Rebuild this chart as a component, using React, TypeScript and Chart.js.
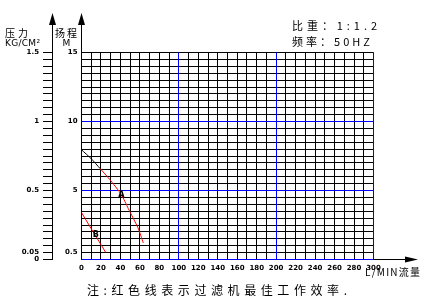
import React, { useEffect, useRef } from 'react';
import { Chart, registerables } from 'chart.js';

Chart.register(...registerables);

// ---- data ----
const flowMin = 0;
const flowMax = 300;
const flowStep = 10;
const flowLabelEvery = 20;
const headMin = 0;
const headMax = 15;
const headStep = 0.5;
const headLabels = [0.5, 5, 10, 15];
const pressureMax = 1.5;
const pressureStep = 0.05;
const pressureLabels = [0, 0.05, 0.5, 1, 1.5];
const blueFlow = [100, 200, 300];
const blueHead = [0, 5, 10];

const curveAFlow = [0, 10, 19, 29, 41, 48, 58, 63.5];
const curveAHead = [7.95, 7.3, 6.6, 5.8, 4.7, 3.7, 2.3, 1.2];
const curveABlackUntil = 19;
const curveBFlow = [0, 12, 25];
const curveBHead = [3.4, 2.0, 0.5];
const curveLabels = ['A', 'B'];
const curveLabelFlow = [41, 14.7];
const curveLabelHead = [4.7, 1.77];

const textRatio = '比重：1:1.2';
const textFreq = '频率：50HZ';
const textPressure = '压力';
const textPressureUnit = 'KG/CM²';
const textHead = '扬程';
const textHeadUnit = 'M';
const textFlow = 'L/MIN流量';
const textNote = '注:红色线表示过滤机最佳工作效率.';

const CJK = '"Noto Sans CJK SC", "DejaVu Sans", sans-serif';

function near(v: number, arr: number[]) {
  return arr.some((a) => Math.abs(a - v) < 1e-6);
}

function spread(ctx: CanvasRenderingContext2D, text: string, x0: number, x1: number, y: number) {
  const chars = Array.from(text);
  const widths = chars.map((c) => ctx.measureText(c).width);
  const total = widths.reduce((a, b) => a + b, 0);
  const gap = chars.length > 1 ? (x1 - x0 - total) / (chars.length - 1) : 0;
  let x = x0;
  ctx.textAlign = 'left';
  ctx.textBaseline = 'middle';
  chars.forEach((c, i) => {
    ctx.fillText(c, x, y);
    x += widths[i] + gap;
  });
}

const al = (v: number) => Math.round(v - 0.5) + 0.5;

const decoPlugin = {
  id: 'deco',
  beforeDatasetsDraw(chart: any) {
    const ctx = chart.ctx as CanvasRenderingContext2D;
    const { left, right, top, bottom } = chart.chartArea;
    const xs = chart.scales.x;
    const ys = chart.scales.y;
    ctx.save();
    ctx.strokeStyle = '#0000ff';
    ctx.lineWidth = 1;
    blueFlow.forEach((v) => {
      const px = al(xs.getPixelForValue(v));
      ctx.beginPath();
      ctx.moveTo(px, top);
      ctx.lineTo(px, bottom);
      ctx.stroke();
    });
    blueHead.forEach((v) => {
      const py = al(ys.getPixelForValue(v));
      ctx.beginPath();
      ctx.moveTo(left, py);
      ctx.lineTo(right, py);
      ctx.stroke();
    });
    ctx.restore();
  },
  afterDraw(chart: any) {
    const ctx = chart.ctx as CanvasRenderingContext2D;
    const { left, right, top, bottom } = chart.chartArea;
    const xs = chart.scales.x;
    const ys = chart.scales.y;
    const y2 = chart.scales.y2;
    ctx.save();
    ctx.strokeStyle = '#000';
    ctx.fillStyle = '#000';
    ctx.lineWidth = 1;
    const ax1 = al(y2.right);
    const ax2 = al(left);
    const by = al(bottom);
    // vertical axes extended to arrows
    [ax1, ax2].forEach((ax) => {
      ctx.beginPath();
      ctx.moveTo(ax, 20);
      ctx.lineTo(ax, ax === ax1 ? by + 0.5 : top);
      ctx.stroke();
      ctx.beginPath();
      ctx.moveTo(ax, 13);
      ctx.lineTo(ax - 3.5, 25);
      ctx.lineTo(ax + 3.5, 25);
      ctx.closePath();
      ctx.fill();
    });
    // x axis extension with arrow
    ctx.beginPath();
    ctx.moveTo(al(right), by);
    ctx.lineTo(408, by);
    ctx.stroke();
    ctx.beginPath();
    ctx.moveTo(418, by);
    ctx.lineTo(405, by - 3);
    ctx.lineTo(405, by + 3);
    ctx.closePath();
    ctx.fill();

    // curve labels
    ctx.font = 'bold 8px "DejaVu Sans", sans-serif';
    ctx.textAlign = 'center';
    ctx.textBaseline = 'middle';
    curveLabels.forEach((t, i) => {
      ctx.fillText(t, xs.getPixelForValue(curveLabelFlow[i]), ys.getPixelForValue(curveLabelHead[i]));
    });

    // annotations
    ctx.font = `11px ${CJK}`;
    spread(ctx, textRatio, 292, 377, 25.5);
    spread(ctx, textFreq, 292, 370, 42);
    ctx.font = `10px ${CJK}`;
    spread(ctx, textPressure, 5, 28, 33);
    spread(ctx, textHead, 55, 77, 33);
    ctx.font = `9px "DejaVu Sans", sans-serif`;
    spread(ctx, textPressureUnit, 5, 40, 43.5);
    ctx.textAlign = 'center';
    ctx.fillText(textHeadUnit, 66.5, 43.5);
    ctx.font = `10px ${CJK}`;
    spread(ctx, textFlow, 365, 420, 272.5);
    ctx.font = `12px ${CJK}`;
    spread(ctx, textNote, 87, 347, 290.5);
    ctx.restore();
  },
};

export default function App() {
  const ref = useRef<HTMLCanvasElement | null>(null);
  useEffect(() => {
    if (!ref.current) return;
    const tickFont = { family: '"DejaVu Sans", sans-serif', size: 7, weight: 'bold' as const };
    const chart = new Chart(ref.current, {
      type: 'line',
      data: {
        datasets: [
          {
            data: curveAFlow.map((x, i) => ({ x, y: curveAHead[i] })),
            borderColor: '#ff0000',
            borderWidth: 1,
            pointRadius: 0,
            tension: 0.2,
            segment: {
              borderColor: (c: any) => (c.p0.parsed.x < curveABlackUntil ? '#000000' : '#ff0000'),
            },
          },
          {
            data: curveBFlow.map((x, i) => ({ x, y: curveBHead[i] })),
            borderColor: '#ff0000',
            borderWidth: 1,
            pointRadius: 0,
            tension: 0,
          },
        ],
      },
      options: {
        animation: false,
        responsive: false,
        maintainAspectRatio: false,
        events: [],
        layout: { padding: { left: 0, top: 52.5, right: 51.5, bottom: 28.5 } },
        plugins: { legend: { display: false }, tooltip: { enabled: false } },
        scales: {
          x: {
            type: 'linear',
            min: flowMin,
            max: flowMax,
            border: { display: false },
            grid: {
              drawTicks: false,
              color: (c: any) => (near(c.tick.value, blueFlow) ? '#0000ff' : '#000000'),
              lineWidth: 1,
            },
            ticks: {
              stepSize: flowStep,
              autoSkip: false,
              maxRotation: 0,
              padding: 4,
              color: '#000',
              font: tickFont,
              callback: (v: any) => (Math.round(v) % flowLabelEvery === 0 ? String(v) : ''),
            },
            afterFit: (s: any) => {
              s.height = 20;
            },
          },
          y: {
            type: 'linear',
            position: 'left',
            weight: 0,
            min: headMin,
            max: headMax,
            border: { display: true, color: '#000' },
            grid: {
              drawTicks: false,
              color: (c: any) => (near(c.tick.value, blueHead) ? '#0000ff' : '#000000'),
              lineWidth: 1,
            },
            ticks: {
              stepSize: headStep,
              autoSkip: false,
              padding: 4,
              color: '#000',
              font: tickFont,
              callback: (v: any) => (near(Number(v), headLabels) ? String(Number(v)) : ''),
            },
            afterFit: (s: any) => {
              s.width = 29.5;
            },
          },
          y2: {
            type: 'linear',
            position: 'left',
            weight: 1,
            min: 0,
            max: pressureMax,
            border: { display: true, color: '#000' },
            grid: {
              drawOnChartArea: false,
              drawTicks: true,
              tickLength: 9,
              color: '#000',
            },
            ticks: {
              stepSize: pressureStep,
              autoSkip: false,
              padding: 4,
              color: '#000',
              font: tickFont,
              callback: (v: any) => (near(Number(v), pressureLabels) ? String(Math.round(Number(v) * 100) / 100) : ''),
            },
            afterFit: (s: any) => {
              s.width = 52;
            },
          },
        },
      },
      plugins: [decoPlugin],
    });
    return () => chart.destroy();
  }, []);
  return (
    <div style={{ position: 'fixed', left: 0, top: 0, width: 425, height: 308, background: '#fff' }}>
      <canvas ref={ref} width={425} height={308} style={{ display: 'block', width: 425, height: 308 }} />
    </div>
  );
}
